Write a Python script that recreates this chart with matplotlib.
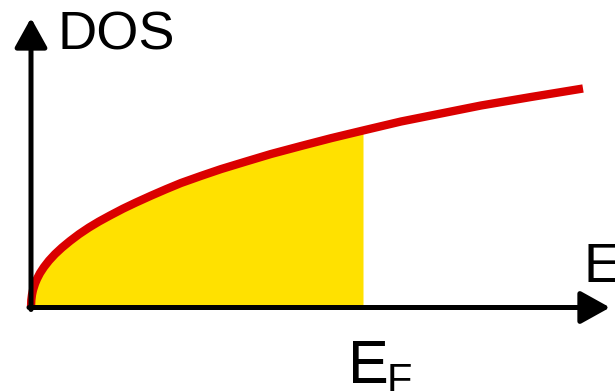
import matplotlib.pyplot as plt
import numpy as np

# density of states curve (energy, DOS)
energy = [0, 0.3, 1, 2, 4, 6, 9, 13, 18, 24, 31, 39, 48, 58, 68, 79, 92, 105,
          120, 135, 150, 170, 190, 215, 240, 270, 300, 332, 370, 410, 450, 500, 552]
dos = [0, 7.4, 12.8, 17.5, 23.8, 28.6, 34.4, 40.5, 46.9, 53.4, 59.9, 66.5, 73.3,
       80.0, 86.0, 92.0, 98.8, 105.0, 111.8, 118.3, 124.5, 131.6, 138.4, 146.0,
       153.5, 161.5, 169.3, 177.0, 186.0, 194.0, 202.0, 210.5, 219.0]
fermi_energy = 332

energy = np.array(energy)
dos = np.array(dos)

plt.rcParams['font.family'] = ['Liberation Sans', 'DejaVu Sans']

fig = plt.figure(figsize=(6.15, 3.91), dpi=100)
ax = fig.add_axes([0, 0, 1, 1])
ax.set_xlim(-31, 584)
ax.set_ylim(-83.5, 307.5)
ax.axis('off')

# occupied states up to the Fermi level
filled = energy <= fermi_energy
ax.fill_between(energy[filled], 0, dos[filled], color='#FFE100', lw=0, zorder=1)
ax.plot(energy, dos, color='#DA0000', lw=6, solid_capstyle='butt',
        solid_joinstyle='round', zorder=2)

# axes drawn as arrows
arrow = dict(arrowstyle='-|>,head_length=0.9,head_width=0.5', color='black',
             lw=3.6, shrinkA=0, shrinkB=0, mutation_scale=20)
ax.annotate('', xy=(579, 0), xytext=(-2, 0), arrowprops=arrow, zorder=3)
ax.annotate('', xy=(0, 289.5), xytext=(0, -2), arrowprops=arrow, zorder=3)

ax.text(26, 257.5, 'DOS', fontsize=39, va='baseline', ha='left')
ax.text(553, 25.5, 'E', fontsize=40, va='baseline', ha='left')
ax.text(317, -75.5, 'E', fontsize=44, va='baseline', ha='left')
ax.text(356, -85.5, 'F', fontsize=30, va='baseline', ha='left')

fig.savefig('out.png', dpi=100)
